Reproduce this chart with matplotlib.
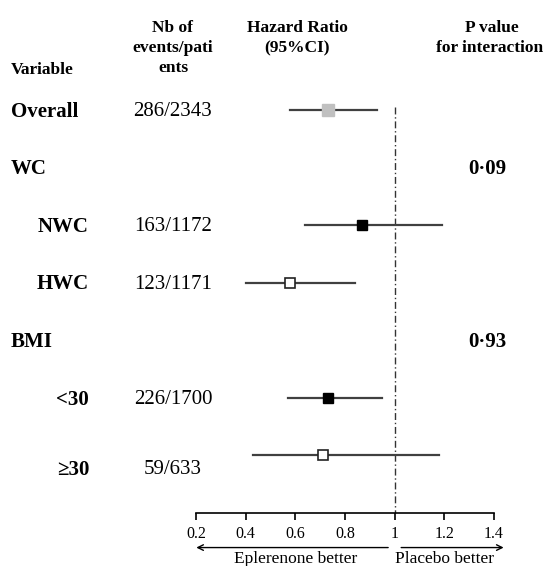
import numpy as np
import matplotlib
matplotlib.use("agg")
import matplotlib.pyplot as plt
from matplotlib.transforms import blended_transform_factory

# rows of the forest plot
labels = ["Overall", "WC", "NWC", "HWC", "BMI", "<30", "\u226530"]
events = ["286/2343", "", "163/1172", "123/1171", "", "226/1700", "59/633"]
hr = [0.73, np.nan, 0.87, 0.58, np.nan, 0.73, 0.71]
ci_low = [0.58, np.nan, 0.64, 0.40, np.nan, 0.57, 0.43]
ci_high = [0.93, np.nan, 1.19, 0.84, np.nan, 0.95, 1.18]
p_inter = ["", "0\u00b709", "", "", "0\u00b793", "", ""]
is_group = [True, True, False, False, True, False, False]
marker_face = ["#c0c0c0", None, "black", "white", None, "black", "white"]
xticks = [0.2, 0.4, 0.6, 0.8, 1, 1.2, 1.4]
xticklabels = ["0.2", "0.4", "0.6", "0.8", "1", "1.2", "1.4"]

plt.rcParams['font.family'] = ['Liberation Serif', 'DejaVu Serif']

W, H = 544, 566
fig = plt.figure(figsize=(W / 100, H / 100), dpi=100)
# axes: x 0.2..1.4 -> px 196..494, rows -0.5..7 -> px 81..513
ax = fig.add_axes([196 / W, (H - 513) / H, 298 / W, 432 / H])
ax.set_xlim(0.2, 1.4)
ax.set_ylim(7, -0.5)

for sp in ["top", "left", "right"]:
    ax.spines[sp].set_visible(False)
ax.spines["bottom"].set_linewidth(1.2)
ax.set_yticks([])
ax.set_xticks(xticks)
ax.set_xticklabels(xticklabels, fontsize=11.5)
ax.tick_params(axis="x", direction="out", length=5, width=1.2, pad=4)

# reference line at HR = 1
ax.plot([1, 1], [-0.05, 7], color="#333333", lw=1.0,
        linestyle=(0, (5, 2, 1, 2)), clip_on=False)

for i in range(len(labels)):
    if np.isnan(hr[i]):
        continue
    ax.plot([ci_low[i], ci_high[i]], [i, i], color="#404040", lw=1.6, zorder=2)
    if marker_face[i] == "#c0c0c0":
        ax.plot(hr[i], i, marker="s", ms=8, mfc="#c0c0c0", mec="#c0c0c0", zorder=3)
    elif marker_face[i] == "black":
        ax.plot(hr[i], i, marker="s", ms=7, mfc="black", mec="black", zorder=3)
    else:
        ax.plot(hr[i], i, marker="s", ms=6.5, mfc="white", mec="#222222",
                mew=1.2, zorder=3)

# left and right text columns
tr = blended_transform_factory(fig.transFigure, ax.transData)
for i in range(len(labels)):
    dy = 0.25 if labels[i] == "\u226530" else 0.03
    if is_group[i]:
        fig.text(11 / W, i + dy, labels[i], transform=tr, fontsize=15,
                 fontweight="bold", ha="left", va="center")
    else:
        fig.text(89 / W, i + dy, labels[i], transform=tr, fontsize=15,
                 fontweight="bold", ha="right", va="center")
    if events[i]:
        fig.text(173 / W, i + dy, events[i], transform=tr, fontsize=15,
                 ha="center", va="center")
    if p_inter[i]:
        fig.text(487 / W, i + dy, p_inter[i], transform=tr, fontsize=15,
                 fontweight="bold", ha="center", va="center")

# headers
hdr = dict(fontsize=12.5, fontweight="bold", ha="center", va="center")
fig.text(11 / W, 1 - 70 / H, "Variable", fontsize=12.5, fontweight="bold",
         ha="left", va="center")
fig.text(173 / W, 1 - 28 / H, "Nb of", **hdr)
fig.text(173 / W, 1 - 48 / H, "events/pati", **hdr)
fig.text(173 / W, 1 - 68 / H, "ents", **hdr)
fig.text(297 / W, 1 - 28 / H, "Hazard Ratio", **hdr)
fig.text(297 / W, 1 - 48 / H, "(95%CI)", **hdr)
fig.text(492 / W, 1 - 28 / H, "P value", **hdr)
fig.text(490 / W, 1 - 48 / H, "for interaction", **hdr)

# direction arrows below the axis
ax.annotate("", xy=(0.19, 7.6), xytext=(0.985, 7.6), xycoords="data",
            arrowprops=dict(arrowstyle="->", lw=1.0, color="black"),
            annotation_clip=False)
ax.annotate("", xy=(1.45, 7.6), xytext=(1.015, 7.6), xycoords="data",
            arrowprops=dict(arrowstyle="->", lw=1.0, color="black"),
            annotation_clip=False)
ax.text(0.6, 7.8, "Eplerenone better", fontsize=12.5, ha="center", va="center",
        clip_on=False)
ax.text(1.2, 7.8, "Placebo better", fontsize=12.5, ha="center", va="center",
        clip_on=False)

fig.savefig("out.png", dpi=100)
